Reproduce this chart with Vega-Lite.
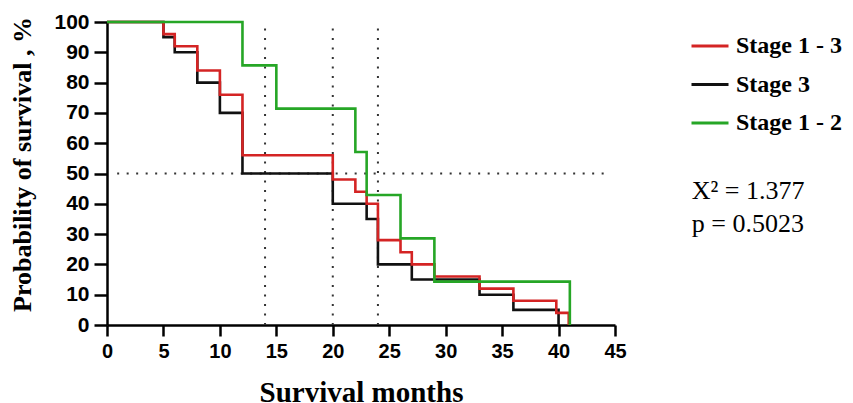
{
  "$schema": "https://vega.github.io/schema/vega-lite/v6.json",
  "autosize": {"type": "none"},
  "padding": {"left": 107, "top": 22, "right": 238, "bottom": 78},
  "width": 508,
  "height": 303,
  "background": "white",
  "config": {
    "view": {"stroke": null},
    "axis": {"grid": false}
  },
  "datasets": {
    "km": [
      {"series": "Stage 3", "month": 0, "surv": 100},
      {"series": "Stage 3", "month": 5, "surv": 95},
      {"series": "Stage 3", "month": 6, "surv": 90},
      {"series": "Stage 3", "month": 8, "surv": 80},
      {"series": "Stage 3", "month": 10, "surv": 70},
      {"series": "Stage 3", "month": 12, "surv": 50},
      {"series": "Stage 3", "month": 20, "surv": 40},
      {"series": "Stage 3", "month": 23, "surv": 35},
      {"series": "Stage 3", "month": 24, "surv": 20},
      {"series": "Stage 3", "month": 27, "surv": 15},
      {"series": "Stage 3", "month": 33, "surv": 10},
      {"series": "Stage 3", "month": 36, "surv": 5},
      {"series": "Stage 3", "month": 40, "surv": 0},
      {"series": "Stage 1 - 3", "month": 0, "surv": 100},
      {"series": "Stage 1 - 3", "month": 5, "surv": 96},
      {"series": "Stage 1 - 3", "month": 6, "surv": 92},
      {"series": "Stage 1 - 3", "month": 8, "surv": 84},
      {"series": "Stage 1 - 3", "month": 10, "surv": 76},
      {"series": "Stage 1 - 3", "month": 12, "surv": 56},
      {"series": "Stage 1 - 3", "month": 20, "surv": 48},
      {"series": "Stage 1 - 3", "month": 22, "surv": 44},
      {"series": "Stage 1 - 3", "month": 23, "surv": 40},
      {"series": "Stage 1 - 3", "month": 24, "surv": 28},
      {"series": "Stage 1 - 3", "month": 26, "surv": 24},
      {"series": "Stage 1 - 3", "month": 27, "surv": 20},
      {"series": "Stage 1 - 3", "month": 29, "surv": 16},
      {"series": "Stage 1 - 3", "month": 33, "surv": 12},
      {"series": "Stage 1 - 3", "month": 36, "surv": 8},
      {"series": "Stage 1 - 3", "month": 39.8, "surv": 4},
      {"series": "Stage 1 - 3", "month": 40.9, "surv": 0},
      {"series": "Stage 1 - 2", "month": 0, "surv": 100},
      {"series": "Stage 1 - 2", "month": 12, "surv": 85.7},
      {"series": "Stage 1 - 2", "month": 15, "surv": 71.4},
      {"series": "Stage 1 - 2", "month": 22, "surv": 57.1},
      {"series": "Stage 1 - 2", "month": 23, "surv": 42.9},
      {"series": "Stage 1 - 2", "month": 26, "surv": 28.6},
      {"series": "Stage 1 - 2", "month": 29, "surv": 14.3},
      {"series": "Stage 1 - 2", "month": 41, "surv": 0}
    ]
  },
  "encoding": {
    "x": {
      "field": "month", "type": "quantitative",
      "scale": {"domain": [0, 45], "nice": false},
      "axis": {
        "values": [0, 5, 10, 15, 20, 25, 30, 35, 40, 45],
        "title": "Survival months",
        "titleFont": "Liberation Serif", "titleFontSize": 29, "titleFontWeight": "bold", "titleColor": "black",
        "titlePadding": 17,
        "labelFont": "Liberation Sans", "labelFontSize": 20, "labelFontWeight": "bold", "labelColor": "black",
        "labelPadding": 5, "labelFlush": false, "labelOverlap": false,
        "domainColor": "black", "domainWidth": 2.5,
        "tickColor": "black", "tickWidth": 2.5, "tickSize": 11
      }
    },
    "y": {
      "field": "surv", "type": "quantitative",
      "scale": {"domain": [0, 100], "nice": false},
      "axis": {
        "values": [0, 10, 20, 30, 40, 50, 60, 70, 80, 90, 100],
        "title": "Probability of survival , %",
        "titleFont": "Liberation Serif", "titleFontSize": 26, "titleFontWeight": "bold", "titleColor": "black",
        "titleX": -72, "titleY": 142, "titleBaseline": "bottom", "titleAngle": -90, "titleAlign": "center",
        "labelFont": "Liberation Sans", "labelFontSize": 21, "labelFontWeight": "bold", "labelColor": "black",
        "labelPadding": 5, "labelFlush": false, "labelOverlap": false,
        "domainColor": "black", "domainWidth": 2.5,
        "tickColor": "black", "tickWidth": 2.5, "tickSize": 13
      }
    }
  },
  "layer": [
    {
      "data": {"values": [{"month": 14, "surv": 0, "surv2": 100}, {"month": 20, "surv": 0, "surv2": 100}, {"month": 24, "surv": 0, "surv2": 100}]},
      "mark": {"type": "rule", "strokeDash": [2, 7.5], "strokeWidth": 2, "color": "#333333"},
      "encoding": {
        "y2": {"field": "surv2"}
      }
    },
    {
      "data": {"values": [{"month": 0.9, "month2": 44.3, "surv": 50}]},
      "mark": {"type": "rule", "strokeDash": [2, 7.5], "strokeWidth": 2, "color": "#333333"},
      "encoding": {
        "x2": {"field": "month2"}
      }
    },
    {
      "data": {"name": "km"},
      "transform": [{"filter": "datum.series == 'Stage 3'"}],
      "mark": {"type": "line", "interpolate": "step-after", "strokeWidth": 2.6},
      "encoding": {
        "color": {
          "field": "series", "type": "nominal",
          "scale": {"domain": ["Stage 1 - 3", "Stage 3", "Stage 1 - 2"], "range": ["#d42424", "#111111", "#26a626"]},
          "legend": {
            "title": null,
            "orient": "none", "legendX": 583, "legendY": 4,
            "padding": 0,
            "symbolType": "stroke", "symbolSize": 1369, "symbolStrokeWidth": 3,
            "labelFont": "Liberation Serif", "labelFontSize": 24, "labelFontWeight": "bold", "labelColor": "black",
            "labelOffset": 6, "rowPadding": 6.5
          }
        }
      }
    },
    {
      "data": {"name": "km"},
      "transform": [{"filter": "datum.series == 'Stage 1 - 3'"}],
      "mark": {"type": "line", "interpolate": "step-after", "strokeWidth": 2.6},
      "encoding": {
        "color": {"field": "series", "type": "nominal"}
      }
    },
    {
      "data": {"name": "km"},
      "transform": [{"filter": "datum.series == 'Stage 1 - 2'"}],
      "mark": {"type": "line", "interpolate": "step-after", "strokeWidth": 2.6},
      "encoding": {
        "color": {"field": "series", "type": "nominal"}
      }
    },
    {
      "data": {"values": [{"t": "X² = 1.377", "month": 51.8, "surv": 41.6}, {"t": "p = 0.5023", "month": 51.8, "surv": 30.7}]},
      "mark": {"type": "text", "align": "left", "baseline": "alphabetic", "font": "Liberation Serif", "fontSize": 26, "color": "black", "clip": false},
      "encoding": {
        "text": {"field": "t"}
      }
    }
  ]
}
